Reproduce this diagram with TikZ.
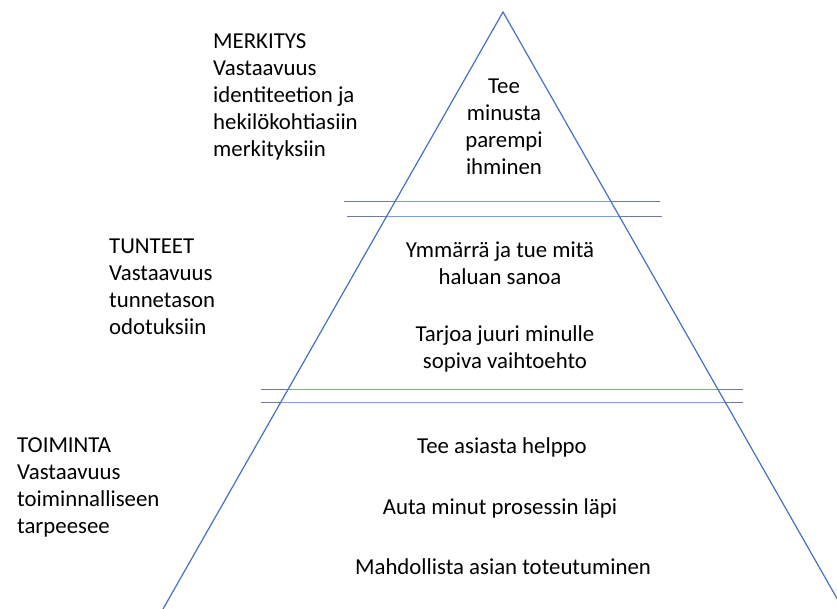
\documentclass[tikz,border=0pt]{standalone}
\usepackage{fontspec}
\setmainfont{Carlito}
\definecolor{tri}{RGB}{68,114,196}
\definecolor{outl}{RGB}{110,124,155}
\definecolor{inl}{RGB}{125,158,218}
\begin{document}
\begin{tikzpicture}[x=1pt,y=-1pt,
  txt/.style={inner sep=0pt,font=\fontsize{22.8}{27}\selectfont,text=black},
  lft/.style={txt,align=left,anchor=base west},
  ctr/.style={txt,align=center,anchor=base},
  sep/.style={line width=1pt}]
\useasboundingbox (0,0) rectangle (837,609);
\clip (0,0) rectangle (837,609);
\fill[white] (0,0) rectangle (837,609);
% triangle
\coordinate (apex) at (503,12);
\coordinate (bl) at (163,609);
\coordinate (br) at (843,609);
% separator lines (outer colour)
\coordinate (a1) at (344,202); \coordinate (a2) at (660,202);
\coordinate (b1) at (347,217); \coordinate (b2) at (662,217);
\coordinate (c1) at (261,389); \coordinate (c2) at (743,389);
\coordinate (d1) at (261,402); \coordinate (d2) at (743,402);
\draw[sep,outl] (a1) -- (a2) (b1) -- (b2) (c1) -- (c2) (d1) -- (d2);
\begin{scope}
\clip (apex) -- (bl) -- (br) -- cycle;
\draw[sep,inl] (a1) -- (a2) (b1) -- (b2) (c1) -- (c2) (d1) -- (d2);
\end{scope}
\draw[tri,line width=1.2pt] (bl) -- (apex) -- (br);
% left labels (anchor = baseline of last line)
\node[lft] (merk) at (213,157) {MERKITYS\\Vastaavuus\\identiteetion ja\\hekilökohtiasiin\\merkityksiin};
\node[lft] (tunt) at (109,334) {TUNTEET\\Vastaavuus\\tunnetason\\odotuksiin};
\node[lft] (toim) at (17,533) {TOIMINTA\\Vastaavuus\\toiminnalliseen\\tarpeesee};
% pyramid texts
\node[ctr] (t1) at (504,175) {Tee\\minusta\\parempi\\ihminen};
\node[ctr] (t2) at (500,285) {Ymmärrä ja tue mitä\\haluan sanoa};
\node[ctr] (t3) at (505,368) {Tarjoa juuri minulle\\sopiva vaihtoehto};
\node[ctr] (t4) at (502,453) {Tee asiasta helppo};
\node[ctr] (t5) at (500,514) {Auta minut prosessin läpi};
\node[ctr] (t6) at (503,574) {Mahdollista asian toteutuminen};
\end{tikzpicture}
\end{document}
